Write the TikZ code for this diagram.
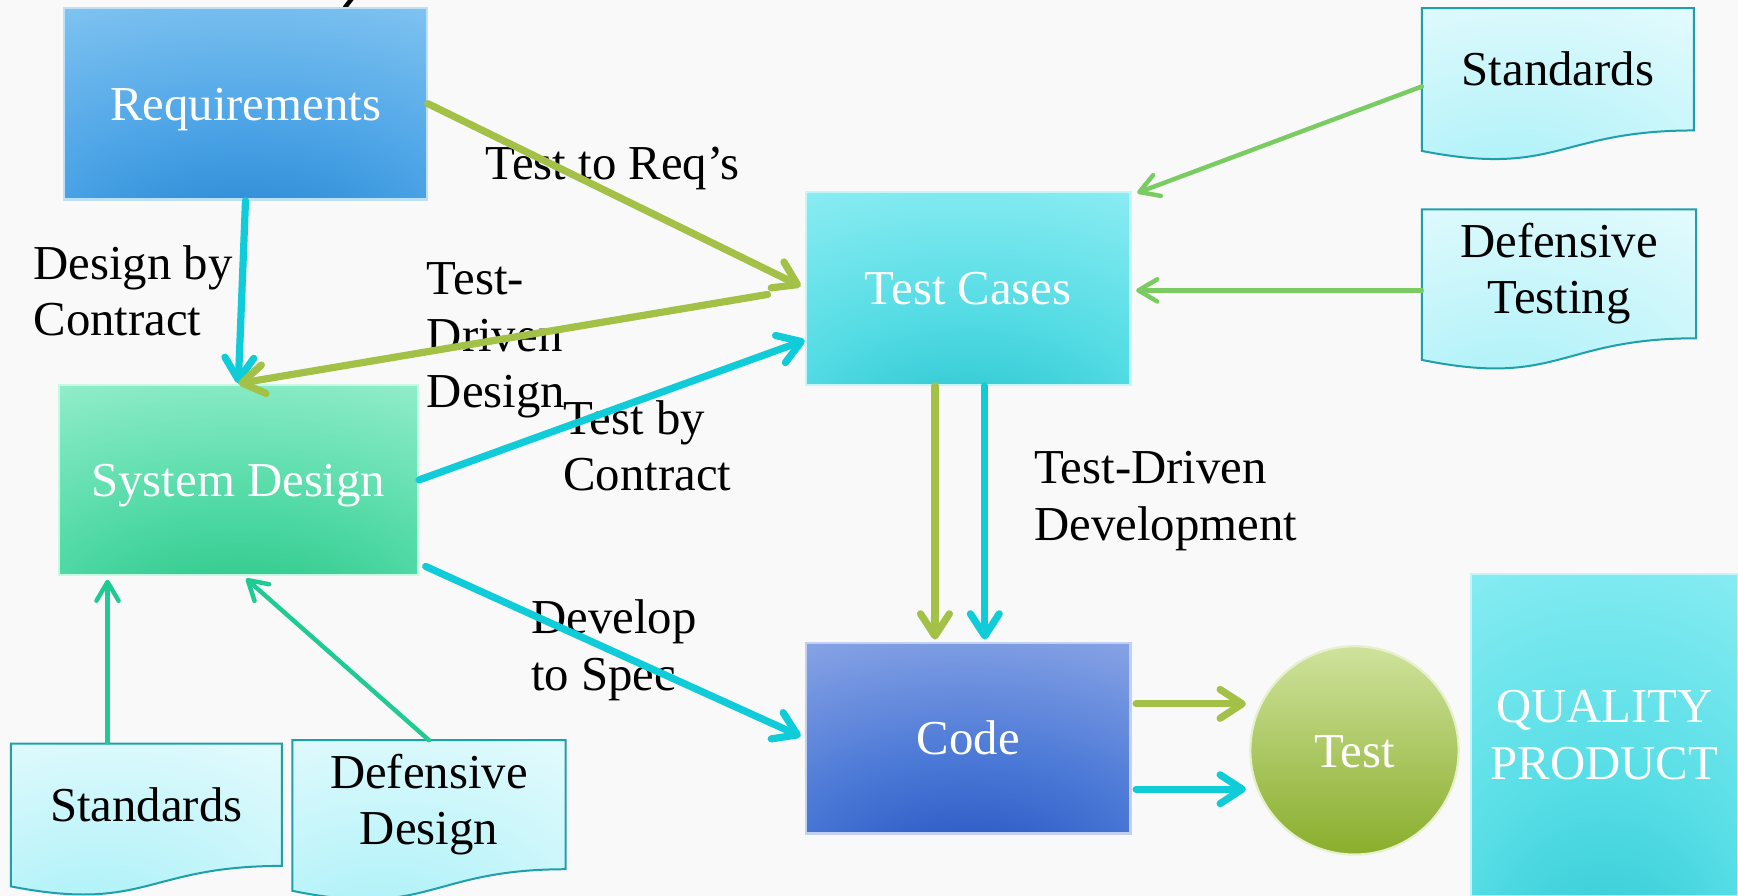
\documentclass[tikz,border=0pt]{standalone}
\usepackage{fontspec}
\setmainfont{Liberation Serif}
\usetikzlibrary{arrows.meta,calc,shapes.geometric}
\pgfdeclarelayer{bg}
\pgfdeclarelayer{docs}
\pgfsetlayers{bg,docs,main}

\definecolor{bgcol}{HTML}{F9F9F9}
\definecolor{reqdark}{HTML}{1C7CCC}
\definecolor{reqmid}{HTML}{4CA4E6}
\definecolor{reqlight}{HTML}{8ECCF4}
\definecolor{sysdark}{HTML}{1ABF7E}
\definecolor{sysmid}{HTML}{52DAA6}
\definecolor{syslight}{HTML}{A4F3D6}
\definecolor{tcdark}{HTML}{1EBFCA}
\definecolor{tcmid}{HTML}{55DCE4}
\definecolor{tclight}{HTML}{9AF1F7}
\definecolor{codedark}{HTML}{1A46BA}
\definecolor{codemid}{HTML}{4A78D6}
\definecolor{codelight}{HTML}{9AB0EA}
\definecolor{qpdark}{HTML}{26C4CF}
\definecolor{qpmid}{HTML}{58DEE6}
\definecolor{qplight}{HTML}{94F0F6}
\definecolor{docdark}{HTML}{A4F0F8}
\definecolor{doclight}{HTML}{E6FBFD}
\definecolor{docedge}{HTML}{1FA0A8}
\definecolor{testtop}{HTML}{CFE29C}
\definecolor{testbot}{HTML}{8AAE2C}
\definecolor{cyanA}{HTML}{10CCD8}
\definecolor{oliveA}{HTML}{A3C147}
\definecolor{greenA}{HTML}{7ACB62}
\definecolor{tealA}{HTML}{1FCB93}
\definecolor{stroke}{HTML}{1B6678}

\pgfdeclareradialshading{reqshade}{\pgfpoint{0bp}{-45bp}}{color(0bp)=(reqdark); color(28bp)=(reqmid); color(62bp)=(reqlight); color(110bp)=(reqlight)}
\pgfdeclareradialshading{sysshade}{\pgfpoint{0bp}{-45bp}}{color(0bp)=(sysdark); color(28bp)=(sysmid); color(62bp)=(syslight); color(110bp)=(syslight)}
\pgfdeclareradialshading{tcshade}{\pgfpoint{0bp}{-45bp}}{color(0bp)=(tcdark); color(28bp)=(tcmid); color(62bp)=(tclight); color(110bp)=(tclight)}
\pgfdeclareradialshading{codeshade}{\pgfpoint{0bp}{-45bp}}{color(0bp)=(codedark); color(28bp)=(codemid); color(62bp)=(codelight); color(110bp)=(codelight)}
\pgfdeclareradialshading{qpshade}{\pgfpoint{0bp}{-45bp}}{color(0bp)=(qpdark); color(28bp)=(qpmid); color(62bp)=(qplight); color(110bp)=(qplight)}
\pgfdeclareradialshading{docshade}{\pgfpoint{-10bp}{-35bp}}{color(0bp)=(docdark); color(55bp)=(doclight); color(110bp)=(doclight)}

\newcommand\fs{\fontsize{44}{51}\selectfont}
\newcommand\docshape[1]{\shadedraw[docstyle] (#1.north west) -- (#1.north east) -- (#1.south east) .. controls (#1.south) and ($(#1.north)!1.384!(#1.south)$) .. ($(#1.north west)!1.1675!(#1.south west)$) -- cycle;}

\tikzset{
  box/.style={rectangle, inner sep=0pt, text=white, font=\fs, align=center},
  oneline/.style={text height=30pt, text depth=0pt},
  docnode/.style={rectangle, inner sep=0pt, text=black, font=\fs, align=center},
  docstyle/.style={shading=docshade, draw=docedge, line width=1.8pt},
  lbl/.style={inner sep=0pt, text=black, font=\fs, align=left, anchor=north west},
  thick arrow/.style={line width=6.5pt, line cap=round, -{Straight Barb[length=20pt,width=26pt,round]}},
  thin arrow/.style={line width=4pt, line cap=round, -{Straight Barb[length=17pt,width=20pt,round]}},
}

\begin{document}
\begin{tikzpicture}[x=1pt,y=-1pt]
\useasboundingbox (0,0) rectangle (1568,808);
\begin{pgfonlayer}{bg}
  \fill[bgcol] (0,0) rectangle (1568,808);
  \draw[stroke, line width=4pt] (311,7) -- (318,-2);
\end{pgfonlayer}

% main boxes
\node[box, oneline, shade, shading=reqshade, draw=reqlight!60!white, line width=2pt,
      minimum width=327, minimum height=173] (req) at (221.5,93.5) {Requirements};
\node[box, oneline, shade, shading=sysshade, draw=syslight!60!white, line width=2pt,
      minimum width=324, minimum height=172] (sysd) at (215,433) {System Design};
\node[box, oneline, shade, shading=tcshade, draw=tclight!60!white, line width=2pt,
      minimum width=293, minimum height=174] (tc) at (873.5,260) {Test Cases};
\node[box, oneline, shade, shading=codeshade, draw=codelight!60!white, line width=2pt,
      minimum width=293, minimum height=172] (code) at (873.5,666) {Code};
\node[box, oneline, circle, top color=testtop, bottom color=testbot, draw=testtop!50!white, line width=2pt,
      minimum size=188] (test) at (1222,677) {Test};
\node[box, shade, shading=qpshade, draw=qplight!60!white, line width=2pt,
      minimum width=241, minimum height=290] (qp) at (1447.5,663) {QUALITY\\PRODUCT};

% document shapes
\node[docnode, minimum width=245, minimum height=110] (std1) at (1405.5,62.5) {Standards};
\node[docnode, minimum width=247, minimum height=116] (dtest) at (1406.5,247) {Defensive\\Testing};
\node[docnode, minimum width=244, minimum height=110] (std2) at (132,726) {Standards};
\node[docnode, minimum width=246, minimum height=116] (ddes) at (387,726) {Defensive\\Design};
\begin{pgfonlayer}{docs}
  \docshape{std1}
  \docshape{dtest}
  \docshape{std2}
  \docshape{ddes}
\end{pgfonlayer}

% labels
\node[lbl] (l1) at (30,221) {Design by\\Contract};
\node[lbl, anchor=base west] (l2) at (438,162) {Test to Req’s};
\node[lbl] (l3) at (385,237) {Test-\\Driven\\Design};
\node[lbl] (l4) at (508,361) {Test by\\Contract};
\node[lbl] (l5) at (933,407) {Test-Driven\\Development};
\node[lbl] (l6) at (479,541) {Develop\\to Spec};

% connectors
\draw[thick arrow, cyanA] (req.south) -- (sysd.north);
\draw[thick arrow, oliveA, shorten >=4pt] (req.east) -- (tc.west);
\draw[thick arrow, oliveA, shorten <=34pt] (tc.west) -- (sysd.north);
\draw[thick arrow, cyanA] (sysd.east) -- ($(tc.west)+(0,47)$);
\draw[thick arrow, cyanA, shorten >=4pt] ($(sysd.south east)+(6,-9)$) -- (code.west);
\draw[thin arrow, greenA] ($(std1.west)+(0,15.5)$) -- ($(tc.north east)+(5,2)$);
\draw[thin arrow, greenA] ($(dtest.west)+(0,15)$) -- ($(tc.east)+(4,2)$);
\draw[thick arrow, oliveA] ($(tc.south)+(-30,0)$) -- ($(code.north)+(-30,-2)$);
\draw[thick arrow, cyanA] ($(tc.south)+(15,0)$) -- ($(code.north)+(15,-2)$);
\draw[thick arrow, oliveA] ($(code.east)+(4,-31)$) -- ($(test.west)+(-3,-42)$);
\draw[thick arrow, cyanA] ($(code.east)+(4,46)$) -- ($(test.west)+(-3,35)$);
\draw[thin arrow, tealA] ($(std2.north)+(-35,-1)$) -- ($(sysd.south)+(-118,3)$);
\draw[thin arrow, tealA] (ddes.north) -- ($(sysd.south)+(7,2)$);
\end{tikzpicture}
\end{document}
